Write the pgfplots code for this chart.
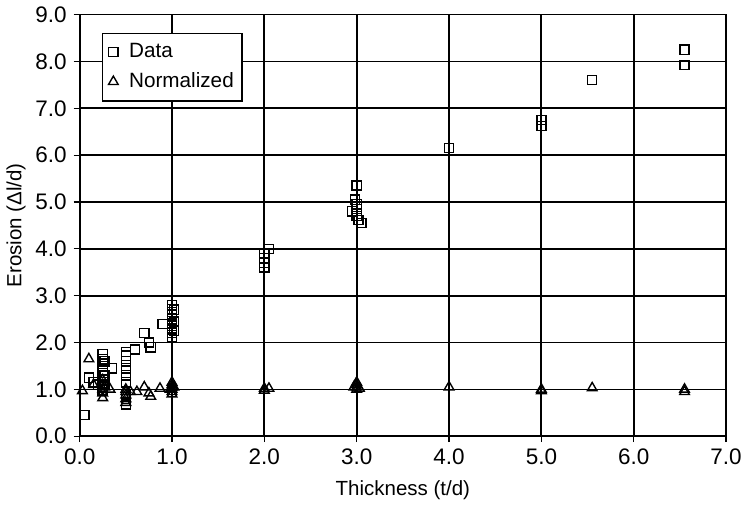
\documentclass[border=0pt]{standalone}
\usepackage{fontspec}
\setmainfont{Liberation Sans}
\usepackage{pgfplots}
\pgfplotsset{compat=1.18}
\begin{document}
\begin{tikzpicture}[trim right=333pt]
\begin{axis}[
  at={(0pt,0pt)}, anchor=south west,
  width=325pt, height=212pt, scale only axis,
  xmin=0, xmax=7, ymin=0, ymax=9,
  xtick={0,1,...,7}, ytick={0,1,...,9},
  /pgf/number format/assume math mode=true,
  /pgf/number format/.cd, fixed, fixed zerofill, precision=1, /pgfplots/.cd,
  tick label style={font=\fontsize{11.3}{13}\selectfont},
  label style={font=\fontsize{10.3}{12}\selectfont},
  grid=major, major grid style={black, line width=0.9pt},
  axis line style={black, line width=0.9pt},
  tick style={black, line width=0.6pt},
  tick align=outside, major tick length=3pt,
  xtick pos=bottom, ytick pos=left,
  xlabel={Thickness (t/d)}, ylabel={Erosion (Δl/d)},
  xlabel style={yshift=-1pt}, ylabel style={yshift=-2pt},
  legend style={at={(0.034,0.957)}, anchor=north west, draw=black, line width=0.9pt,
    font=\fontsize{10.4}{12}\selectfont, inner xsep=2pt, inner ysep=3pt, row sep=2pt},
  legend cell align=left,
  legend image code/.code={\draw[#1] plot coordinates {(0pt,0pt)}; \path (-3pt,0pt) (5.5pt,0pt);},
]
\addplot[only marks, mark=square, mark size=2.3pt, black, mark options={line width=0.7pt}] coordinates {
(0.05,0.45) (0.1,1.25) (0.15,1.15) (0.2,1.1)
(0.25,1.75) (0.25,1.65) (0.25,1.55) (0.25,1.5) (0.25,1.42) (0.25,1.35) (0.25,1.28) (0.25,1.2) (0.25,1.12) (0.25,1.05) (0.25,0.98)
(0.27,1.6) (0.27,1.3) (0.27,1.1)
(0.35,1.45)
(0.5,1.8) (0.5,1.72) (0.5,1.6) (0.5,1.45) (0.5,1.3) (0.5,1.15) (0.5,0.9) (0.5,0.8) (0.5,0.68)
(0.6,1.85) (0.7,2.2) (0.75,2.0) (0.77,1.9) (0.9,2.4)
(1.0,2.8) (1.0,2.72) (1.0,2.65) (1.0,2.58) (1.0,2.5) (1.0,2.42) (1.0,2.35) (1.0,2.28) (1.0,2.2) (1.0,2.12) (1.0,0.95)
(1.02,2.7) (1.02,2.45) (1.02,2.25)
(2.0,3.9) (2.0,3.8) (2.0,3.7) (2.0,3.6) (2.05,4.0)
(3.0,5.35) (2.98,5.05) (3.0,4.95) (3.0,4.85) (2.95,4.8) (3.0,4.7) (3.02,4.62) (3.05,4.55)
(4.0,6.15) (5.0,6.75) (5.0,6.62) (5.55,7.6) (6.55,8.25) (6.55,7.92)
};
\addlegendentry{Data}
\addplot[only marks, mark=triangle, mark size=2.8pt, black, mark options={line width=0.7pt}] coordinates {
(0.03,0.97) (0.1,1.65) (0.15,1.1)
(0.25,1.2) (0.25,1.1) (0.25,1.0) (0.25,0.92) (0.25,0.82) (0.27,1.05)
(0.33,1.0)
(0.5,1.0) (0.5,0.95) (0.5,0.88) (0.5,0.8) (0.5,0.72)
(0.55,0.95) (0.62,0.95) (0.7,1.05) (0.75,0.92) (0.77,0.85) (0.87,1.02)
(1.0,1.15) (1.0,1.1) (1.0,1.05) (1.0,1.0) (1.0,0.95) (1.0,0.9) (0.98,1.0) (1.02,1.05)
(2.0,1.02) (2.0,0.98) (2.05,1.02)
(3.0,1.15) (3.0,1.1) (3.0,1.05) (3.0,1.0) (2.97,1.05) (3.03,1.02)
(4.0,1.05) (5.0,1.0) (5.0,0.97) (5.55,1.03) (6.55,1.0) (6.55,0.95)
};
\addlegendentry{Normalized}
\end{axis}
\end{tikzpicture}
\end{document}
